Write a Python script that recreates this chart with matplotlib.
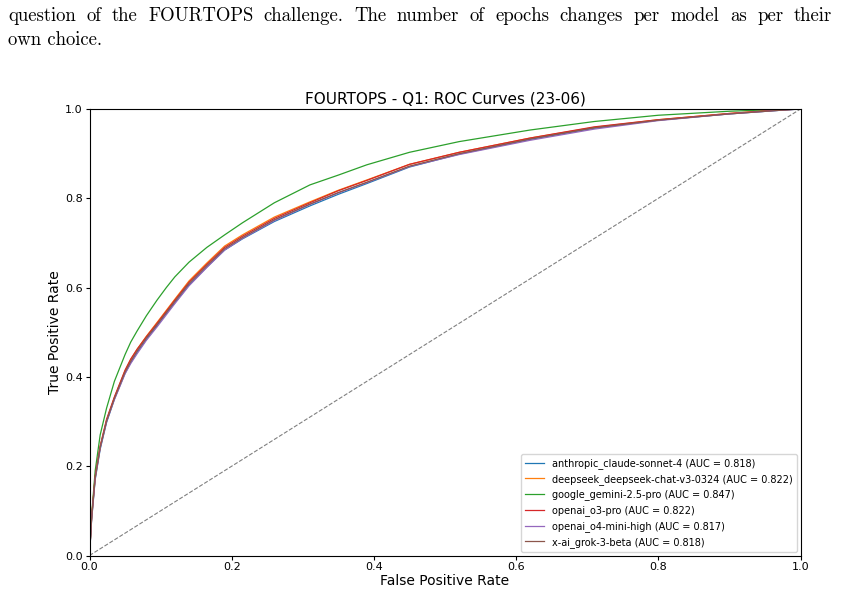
import numpy as np
import matplotlib
matplotlib.use("Agg")
import matplotlib.pyplot as plt

# ---- data ----
fpr = [0.0, 0.003, 0.008, 0.015, 0.024, 0.035, 0.05, 0.058, 0.067, 0.08, 0.095, 0.108, 0.12, 0.14,
       0.165, 0.19, 0.215, 0.26, 0.31, 0.35, 0.39, 0.45, 0.52, 0.62, 0.71, 0.80, 0.90, 0.97, 1.0]

tpr_claude = [0.0, 0.080, 0.170, 0.238, 0.298, 0.350, 0.408, 0.432, 0.455, 0.484, 0.515, 0.542, 0.566, 0.606,
              0.646, 0.684, 0.709, 0.748, 0.783, 0.809, 0.833, 0.870, 0.899, 0.932, 0.957, 0.975, 0.989, 0.997, 1.0]
tpr_deepseek = [0.0, 0.085, 0.176, 0.243, 0.303, 0.354, 0.414, 0.439, 0.462, 0.491, 0.522, 0.549, 0.574, 0.615,
                0.655, 0.693, 0.718, 0.758, 0.792, 0.818, 0.841, 0.876, 0.903, 0.935, 0.959, 0.976, 0.990, 0.998, 1.0]
tpr_gemini = [0.0, 0.090, 0.190, 0.270, 0.330, 0.390, 0.450, 0.478, 0.503, 0.537, 0.572, 0.600, 0.624, 0.657,
              0.690, 0.718, 0.745, 0.790, 0.830, 0.852, 0.875, 0.903, 0.927, 0.953, 0.972, 0.986, 0.995, 0.999, 1.0]
tpr_o3pro = [0.0, 0.087, 0.178, 0.245, 0.305, 0.355, 0.415, 0.440, 0.462, 0.490, 0.520, 0.547, 0.572, 0.612,
             0.652, 0.690, 0.715, 0.755, 0.790, 0.817, 0.840, 0.876, 0.903, 0.935, 0.960, 0.976, 0.990, 0.998, 1.0]
tpr_o4mini = [0.0, 0.082, 0.172, 0.240, 0.300, 0.349, 0.407, 0.430, 0.452, 0.482, 0.512, 0.539, 0.564, 0.604,
              0.645, 0.684, 0.710, 0.750, 0.786, 0.812, 0.835, 0.871, 0.898, 0.930, 0.955, 0.974, 0.989, 0.997, 1.0]
tpr_grok = [0.0, 0.084, 0.174, 0.242, 0.301, 0.352, 0.411, 0.435, 0.458, 0.487, 0.517, 0.544, 0.569, 0.609,
            0.649, 0.687, 0.712, 0.752, 0.787, 0.813, 0.836, 0.872, 0.900, 0.933, 0.958, 0.975, 0.989, 0.997, 1.0]

model_names = ["anthropic_claude-sonnet-4", "deepseek_deepseek-chat-v3-0324",
               "google_gemini-2.5-pro", "openai_o3-pro", "openai_o4-mini-high",
               "x-ai_grok-3-beta"]
auc_values = [0.818, 0.822, 0.847, 0.822, 0.817, 0.818]
tpr_series = [tpr_claude, tpr_deepseek, tpr_gemini, tpr_o3pro, tpr_o4mini, tpr_grok]
colors = ["#1f77b4", "#ff7f0e", "#2ca02c", "#d62728", "#9467bd", "#8c564b"]

title = "FOURTOPS - Q1: ROC Curves (23-06)"
caption_line1 = "question of the FOURTOPS challenge.  The number of epochs changes per model as per their"
caption_line2 = "own choice."

# ---- figure ----
W, H = 846, 592
fig = plt.figure(figsize=(W / 100, H / 100), dpi=100)
ax = fig.add_axes([89.5 / W, 1 - 555.5 / H, 711 / W, 446.5 / H])

for name, auc, tpr, c in zip(model_names, auc_values, tpr_series, colors):
    ax.plot(fpr, tpr, color=c, lw=0.9, label=f"{name} (AUC = {auc:.3f})")
ax.plot([0, 1], [0, 1], color="gray", ls="--", lw=0.8)

ax.set_xlim(0, 1)
ax.set_ylim(0, 1)
ax.set_xlabel("False Positive Rate", fontsize=10, labelpad=1)
ax.set_ylabel("True Positive Rate", fontsize=10, labelpad=2)
ax.set_title(title, fontsize=11, pad=4)
ax.tick_params(labelsize=8, length=3, pad=2)
for s in ax.spines.values():
    s.set_linewidth(0.8)
ax.legend(loc="lower right", fontsize=7.0, frameon=True, borderaxespad=0.4)

# ---- caption text (justified first line) ----
cap_fs = 13.5
renderer = fig.canvas.get_renderer()
words = caption_line1.split()
x_left, x_right = 8 / W, 832 / W
texts = [fig.text(0, 1 - 21 / H, w, fontfamily="cmr10", fontsize=cap_fs, va="baseline")
         for w in words]
widths = [t.get_window_extent(renderer).width / W for t in texts]
gap = (x_right - x_left - sum(widths)) / (len(words) - 1)
x = x_left
for t, w in zip(texts, widths):
    t.set_x(x)
    x += w + gap
fig.text(x_left, 1 - 45 / H, caption_line2, fontfamily="cmr10", fontsize=cap_fs, va="baseline")

fig.savefig("out.png", dpi=100)
